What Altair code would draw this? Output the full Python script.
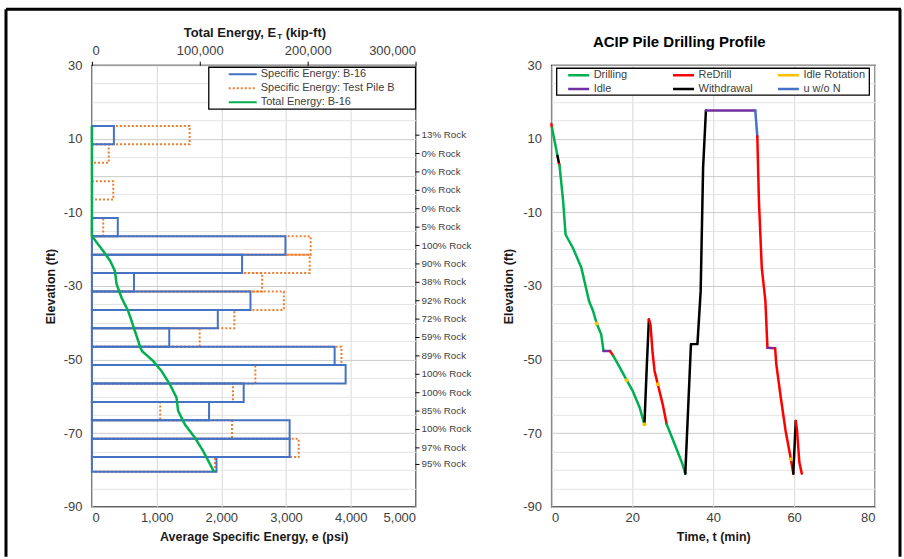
import altair as alt
import pandas as pd

F = "Liberation Sans"
W = 324
H = 442
GAP = 136

# ---------------- left panel data ----------------
bin_top = [13.5, 8.5, 3.5, -1.5, -6.5, -11.5, -16.5, -21.5, -26.5, -31.5, -36.5,
           -41.5, -46.5, -51.5, -56.5, -61.5, -66.5, -71.5, -76.5]
bin_bottom = [8.5, 3.5, -1.5, -6.5, -11.5, -16.5, -21.5, -26.5, -31.5, -36.5, -41.5,
              -46.5, -51.5, -56.5, -61.5, -66.5, -71.5, -76.5, -80.5]
se_b16 = [340, 0, 0, 0, 0, 400, 2990, 2320, 650, 2450, 1945, 1195, 3750, 3920,
          2345, 1810, 3055, 3055, 1925]
se_pile_b = [1510, 260, 0, 330, 0, 175, 3380, 3365, 2630, 2965, 2200, 1665, 3855,
             2525, 2180, 1055, 2165, 3195, 1900]
rock_labels = ["13% Rock", "0% Rock", "0% Rock", "0% Rock", "0% Rock", "5% Rock",
               "100% Rock", "90% Rock", "38% Rock", "92% Rock", "72% Rock", "59% Rock",
               "89% Rock", "100% Rock", "100% Rock", "85% Rock", "100% Rock",
               "97% Rock", "95% Rock"]
te_elev = [13.5, -16.4, -18.7, -20.5, -23.2, -25.9, -29.5, -33.2, -36.8, -39.5, -42.2,
           -44.9, -46.8, -47.7, -50.4, -53.1, -56.7, -60.3, -63.9, -67.6, -71.2, -74.8,
           -76.6, -80.5]
te_energy = [0, 0, 5800, 10500, 17000, 21300, 22900, 27500, 33600, 36800, 39800,
             42900, 45000, 46500, 56800, 64500, 72200, 78400, 79900, 86100, 95400,
             103000, 106200, 113200]

S1 = "Specific Energy: B-16"
S2 = "Specific Energy: Test Pile B"
S3 = "Total Energy: B-16"
series = [S1, S2, S3]
series_colors = ["#4472C4", "#ED7D31", "#00B050"]
series_dash = [[1, 0], [2, 2], [1, 0]]

# ---------------- right panel data ----------------
path_t = [0.0, 0.15, 1.5, 1.9, 2.0, 2.9, 3.5, 5.3, 7.4, 9.3, 10.3, 11.2, 12.3, 12.9,
          14.5, 15.3, 17.0, 18.6, 20.1, 21.8, 23.0, 23.6, 24.1, 24.5, 25.0, 25.5,
          26.3, 27.5, 28.5, 30.8, 32.4, 33.1, 34.5, 36.1, 36.9, 37.5, 38.2, 50.4,
          50.9, 51.3, 52.0, 52.9, 53.4, 55.3, 55.6, 56.7, 57.9, 59.2, 59.8, 60.4,
          60.7, 61.3, 61.9]
path_e = [14.0, 13.0, 5.4, 3.2, 2.9, -6.9, -16.0, -19.6, -25.0, -34.1, -36.8, -40.2,
          -43.1, -47.7, -47.7, -49.0, -52.3, -55.6, -58.5, -63.0, -67.6, -51.3, -39.1,
          -40.5, -48.0, -53.1, -56.7, -62.1, -67.6, -73.9, -78.4, -81.0, -45.8, -45.8,
          -31.4, 2.1, 17.7, 17.7, 10.7, -6.9, -25.0, -34.1, -46.8, -46.9, -51.3,
          -60.3, -69.4, -77.1, -81.0, -66.7, -69.0, -78.0, -81.0]
# activity of the segment that starts at each point
path_act = ["R", "D", "W", "R", "D", "D", "D", "D", "D", "D", "D", "D", "D", "I",
            "R", "D", "D", "D", "D", "D", "W", "W", "R", "R", "R", "R", "R", "R",
            "D", "D", "D", "W", "W", "W", "W", "W", "I", "U", "R", "R", "R", "R",
            "I", "R", "R", "R", "R", "R", "W", "R", "R", "R", "R"]
ir_t = [11.2, 18.6, 23.0, 26.3, 59.2]
ir_e = [-40.2, -55.6, -67.6, -56.7, -77.1]

act_names = {"D": "Drilling", "R": "ReDrill", "Q": "Idle Rotation", "I": "Idle",
             "W": "Withdrawal", "U": "u w/o N"}
# legend order (filled column by column in a 2-row, 3-column grid)
acts = ["Drilling", "Idle", "ReDrill", "Withdrawal", "Idle Rotation", "u w/o N"]
act_colors = ["#00B050", "#7030A0", "#FF0000", "#000000", "#FFC000", "#4472C4"]

# ---------------- tables ----------------
def boxes(vals, name):
    rows = []
    for tp, bt, v in zip(bin_top, bin_bottom, vals):
        if v > 0:
            rows.append({"top": tp, "bot": bt, "val": v, "series": name})
    return pd.DataFrame(rows)

df_b16 = boxes(se_b16, S1)
df_pb = boxes(se_pile_b, S2)
df_te = pd.DataFrame({"elev": te_elev, "energy": te_energy, "series": S3,
                      "k": range(len(te_elev))})
df_rock = pd.DataFrame({"c": [(a + b) / 2 for a, b in zip(bin_top, bin_bottom)],
                        "label": rock_labels})

rows = []
run = -1
prev = None
for i in range(len(path_t) - 1):
    a = act_names[path_act[i]]
    if a != prev:
        run += 1
        rows.append({"run": run, "act": a, "t": path_t[i], "e": path_e[i], "k": len(rows)})
        prev = a
    rows.append({"run": run, "act": a, "t": path_t[i + 1], "e": path_e[i + 1], "k": len(rows)})
df_path = pd.DataFrame(rows)
df_ir = pd.DataFrame({"t": ir_t, "e": ir_e, "act": "Idle Rotation"})
one = pd.DataFrame({"a": [0]})

# ---------------- shared pieces ----------------
yscale = alt.Scale(domain=[-90, 30], nice=False, zero=False)
grid_color = {"condition": {"test": "(datum.value + 90) % 20 == 0 || datum.value == 0",
                            "value": "#cccccc"}, "value": "#e4e4e4"}
COMMA = "format(datum.value, ',')"


def yaxis(tp):
    return alt.Axis(values=list(range(-90, 31, 5)),
                    labelExpr="(datum.value + 90) % 20 == 0 ? '' + datum.value : ''",
                    title="Elevation (ft)", grid=True, gridColor=grid_color,
                    ticks=False, domain=False, labelPadding=10, titlePadding=tp)


yax_l = yaxis(6)
yax_r = yaxis(7)


def legend_box(x1, x2, y1, y2):
    return alt.Chart(one).mark_rect(fill="white", stroke="black", strokeWidth=1.3).encode(
        x=alt.value(x1), x2=alt.value(x2), y=alt.value(y1), y2=alt.value(y2))


leg_l = alt.Legend(title=None, orient="none", legendX=136, legendY=2,
                   symbolType="stroke", symbolSize=784, symbolStrokeWidth=2,
                   labelFont=F, labelFontSize=11, labelColor="#404040",
                   padding=0, clipHeight=14, symbolOffset=0, labelOffset=3,
                   labelLimit=300, rowPadding=0)
stroke_l = alt.Stroke("series:N", scale=alt.Scale(domain=series, range=series_colors),
                      legend=leg_l)
dash_l = alt.StrokeDash("series:N", scale=alt.Scale(domain=series, range=series_dash),
                        legend=leg_l)

x_psi_axis = alt.Axis(values=[0, 1000, 2000, 3000, 4000, 5000], labelExpr=COMMA,
                      title="Average Specific Energy, e (psi)", grid=True,
                      gridColor="#d9d9d9", ticks=False, domain=False,
                      labelPadding=5, titlePadding=6)
x_psi_scale = alt.Scale(domain=[0, 5000], nice=False)

orange = alt.Chart(df_pb).mark_rect(fillOpacity=0, strokeWidth=2,
                                    strokeDash=[2, 2]).encode(
    x=alt.X("val:Q", scale=x_psi_scale, axis=x_psi_axis),
    x2=alt.datum(0),
    y=alt.Y("top:Q", scale=yscale, axis=yax_l),
    y2="bot:Q",
    stroke=stroke_l)

blue = alt.Chart(df_b16).mark_rect(fillOpacity=0, strokeWidth=2).encode(
    x=alt.X("val:Q", scale=x_psi_scale, axis=None),
    x2=alt.datum(0),
    y=alt.Y("top:Q", scale=yscale, axis=yax_l),
    y2="bot:Q",
    stroke=stroke_l)

green = alt.Chart(df_te).mark_line(strokeWidth=2.5).encode(
    x=alt.X("energy:Q", scale=alt.Scale(domain=[0, 300000], nice=False),
            axis=alt.Axis(orient="top", values=[0, 100000, 200000, 300000],
                          labelExpr=COMMA, title=None, grid=False, ticks=True,
                          tickSize=4, tickColor="black", domain=False, labelPadding=4)),
    y=alt.Y("elev:Q", scale=yscale, axis=yax_l),
    order=alt.Order("k:Q"),
    stroke=stroke_l, strokeDash=dash_l)

rticks = alt.Chart(df_rock).mark_rule(color="black", strokeWidth=1).encode(
    y=alt.Y("c:Q", scale=yscale, axis=yax_l), x=alt.value(W), x2=alt.value(W + 4))
rtext = alt.Chart(df_rock).mark_text(align="left", baseline="middle", font=F,
                                     fontSize=9.8, color="#404040").encode(
    y=alt.Y("c:Q", scale=yscale, axis=yax_l), x=alt.value(W + 6), text="label:N")

tt1 = alt.Chart(one).mark_text(text="Total Energy, E", align="right", baseline="middle",
                               font=F, fontSize=13, fontWeight="bold",
                               color="#1a1a1a").encode(x=alt.value(184.5), y=alt.value(-32))
tt2 = alt.Chart(one).mark_text(text="T", align="left", baseline="middle", font=F,
                               fontSize=8, fontWeight="bold",
                               color="#1a1a1a").encode(x=alt.value(185.5), y=alt.value(-28))
tt3 = alt.Chart(one).mark_text(text="(kip-ft)", align="left", baseline="middle", font=F,
                               fontSize=13, fontWeight="bold",
                               color="#1a1a1a").encode(x=alt.value(194), y=alt.value(-32))

fr_left = alt.Chart(one).mark_rule(color="black", strokeWidth=3).encode(
    x=alt.value(-86), y=alt.value(-56), y2=alt.value(492))
fr_top = alt.Chart(one).mark_rule(color="black", strokeWidth=3).encode(
    x=alt.value(-86), x2=alt.value(810), y=alt.value(-56))
fr_right = alt.Chart(one).mark_rule(color="black", strokeWidth=3).encode(
    x=alt.value(809), y=alt.value(-56), y2=alt.value(492))

left = alt.layer(orange, blue, green, legend_box(117, 324, 2, 44), rticks, rtext,
                 tt1, tt2, tt3, fr_left, fr_top, fr_right
                 ).resolve_scale(x="independent").properties(width=W, height=H)

# ---------------- right panel ----------------
leg_r = alt.Legend(title=None, orient="none", legendX=15.3, legendY=3, columns=3,
                   symbolType="stroke", symbolSize=441, symbolStrokeWidth=2.5,
                   labelFont=F, labelFontSize=11, labelColor="#404040",
                   padding=0, clipHeight=13.5, gridAlign="all", columnPadding=16,
                   symbolOffset=0, labelOffset=3, labelLimit=300, rowPadding=0)
col_r = alt.Color("act:N", scale=alt.Scale(domain=acts, range=act_colors), legend=leg_r)
x_t = alt.X("t:Q", scale=alt.Scale(domain=[0, 80], nice=False),
            axis=alt.Axis(values=[0, 20, 40, 60, 80], title="Time, t (min)", grid=True,
                          gridColor="#d9d9d9", ticks=False, domain=False,
                          labelPadding=5, titlePadding=6))

lines = alt.Chart(df_path).mark_line(strokeWidth=2.5, strokeJoin="round",
                                     strokeCap="round").encode(
    x=x_t, y=alt.Y("e:Q", scale=yscale, axis=yax_r), color=col_r,
    detail="run:N", order=alt.Order("k:Q"))
pts = alt.Chart(df_ir).mark_circle(size=16, opacity=1).encode(
    x=x_t, y=alt.Y("e:Q", scale=yscale, axis=yax_r), color=col_r)
title_r = alt.Chart(one).mark_text(text="ACIP Pile Drilling Profile", align="center",
                                   baseline="middle", font=F, fontSize=15,
                                   fontWeight="bold", color="#000000").encode(
    x=alt.value(128), y=alt.value(-23))

right = alt.layer(lines, pts, legend_box(5.3, 318.3, 3, 30), title_r
                  ).properties(width=W, height=H)

chart = alt.hconcat(left, right, spacing=GAP, bounds="flush").resolve_scale(
    color="independent", stroke="independent", strokeDash="independent",
    y="independent", x="independent"
).properties(
    padding={"left": 3, "top": 6, "right": 0, "bottom": 0},
    autosize=alt.AutoSizeParams(type="pad"),
    background="white",
).configure_view(stroke="black", strokeWidth=1.3).configure_axis(
    labelFont=F, titleFont=F, labelColor="#404040", titleColor="#1a1a1a",
    labelFontSize=13, titleFontSize=12.5, titleFontWeight="bold")

chart.save("out.html", embed_options={"renderer": "svg", "actions": False})
